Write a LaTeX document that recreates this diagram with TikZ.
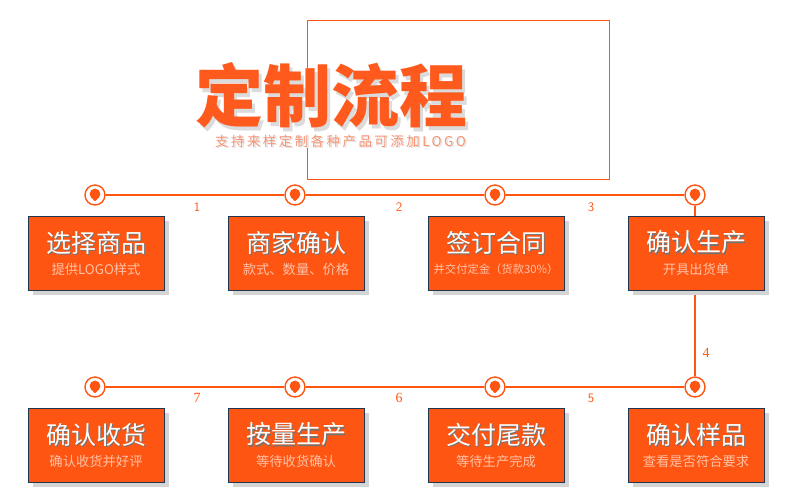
\documentclass[tikz,border=0pt]{standalone}
\usepackage{fontspec}
\setmainfont{Liberation Serif}
\newfontfamily\cjk{Noto Sans CJK SC}
\newfontfamily\cjksp[LetterSpace=18]{Noto Sans CJK SC}
\usetikzlibrary{shadows}
\definecolor{orng}{HTML}{FF5512}
\definecolor{ttl}{HTML}{FF5A1E}
\definecolor{subt}{HTML}{F79474}
\definecolor{bsub}{HTML}{FFC2A6}
\definecolor{bord}{HTML}{1E3553}
\tikzset{
  stepbox/.style={draw=bord, line width=0.9pt, fill=orng, minimum width=136pt, minimum height=74pt, inner sep=0pt,
    drop shadow={shadow xshift=4.5pt, shadow yshift=-4.5pt, fill=black!17, opacity=1}},
  btitle/.style={text=white, font=\cjk\fontsize{25}{25}\selectfont},
  bsubt/.style={text=bsub, font=\cjk\fontsize{13.3}{14}\selectfont},
  conn/.style={draw=orng, line width=1.6pt},
  pinmark/.style={circle, draw=orng, line width=1.4pt, fill=white, minimum size=20pt, inner sep=0pt,
    path picture={
      \fill[orng, shift={(path picture bounding box.center)}] (0pt,1pt) circle (5.4pt);
      \fill[orng, shift={(path picture bounding box.center)}] (-3.9pt,-2.2pt) -- (0pt,-6.4pt) -- (3.9pt,-2.2pt) -- cycle;
    }},
  numsf/.style={text=orng, font=\sffamily\fontsize{13}{13}\selectfont},
  numrm/.style={text=orng, font=\rmfamily\fontsize{14}{14}\selectfont},
}
\begin{document}
\begin{tikzpicture}[x=1pt,y=-1pt]
\useasboundingbox[fill=white] (0,0) rectangle (790,499);
% frame
\draw[orng, line width=0.9pt] (307,20) rectangle (609,179);
\fill[white] (190,68) rectangle (480,148);
% title
\node[text=black!14, font=\cjk\bfseries\fontsize{68}{68}\selectfont, inner sep=0pt] at (334.5,99) {定制流程};
\node[text=ttl, font=\cjk\bfseries\fontsize{68}{68}\selectfont, inner sep=0pt] (title) at (331,95) {定制流程};
\node[text=black!12, font=\cjksp\fontsize{13.5}{14}\selectfont, inner sep=0pt] at (342,142.5) {支持来样定制各种产品可添加LOGO};
\node[text=subt, font=\cjksp\fontsize{13.5}{14}\selectfont, inner sep=0pt] (subtitle) at (340.5,141) {支持来样定制各种产品可添加LOGO};
% pins
\node[pinmark] (c1) at (95,195) {};
\node[pinmark] (c2) at (295,195) {};
\node[pinmark] (c3) at (495,195) {};
\node[pinmark] (c4) at (695,195) {};
\node[pinmark] (c5) at (695,387) {};
\node[pinmark] (c6) at (495,387) {};
\node[pinmark] (c7) at (295,387) {};
\node[pinmark] (c8) at (95,387) {};
% connectors
\draw[conn] (c1) -- (c2);
\draw[conn] (c2) -- (c3);
\draw[conn] (c3) -- (c4);
\draw[conn] (c4) -- (c5);
\draw[conn] (c5) -- (c6);
\draw[conn] (c6) -- (c7);
\draw[conn] (c7) -- (c8);
% numbers
\node[numsf] (n1) at (197,207) {1};
\node[numsf] (n2) at (399,207) {2};
\node[numsf] (n3) at (591,207) {3};
\node[numrm] (n4) at (706,353) {4};
\node[numsf] (n5) at (591,398) {5};
\node[numrm] (n6) at (399,398) {6};
\node[numrm] (n7) at (197,398) {7};
% boxes
\node[stepbox] (b1) at (96,253) {};
\node[stepbox] (b2) at (296,253) {};
\node[stepbox] (b3) at (496,253) {};
\node[stepbox] (b4) at (696,253) {};
\node[stepbox] (b5) at (696,445) {};
\node[stepbox] (b6) at (496,445) {};
\node[stepbox] (b7) at (296,445) {};
\node[stepbox] (b8) at (96,445) {};
% box texts
\foreach \bx/\by/\t/\s/\fs in {96/253/选择商品/提供LOGO样式/13.3, 296/253/商家确认/款式、数量、价格/13.3, 496/253/签订合同/并交付定金（货款30\%）/11.3, 696/253/确认生产/开具出货单/13.3,
  696/445/确认样品/查看是否符合要求/13.3, 496/445/交付尾款/等待生产完成/13.3, 296/445/按量生产/等待收货确认/13.3, 96/445/确认收货/确认收货并好评/13.3}{
  \node[btitle, text=black!55, inner sep=0pt] at (\bx+1,\by-10.5+1.2) {\t};
  \node[btitle, inner sep=0pt] at (\bx,\by-10.5) {\t};
  \node[bsubt, inner sep=0pt, font=\cjk\fontsize{\fs}{14}\selectfont] at (\bx,\by+16) {\s};
}
\end{tikzpicture}
\end{document}
